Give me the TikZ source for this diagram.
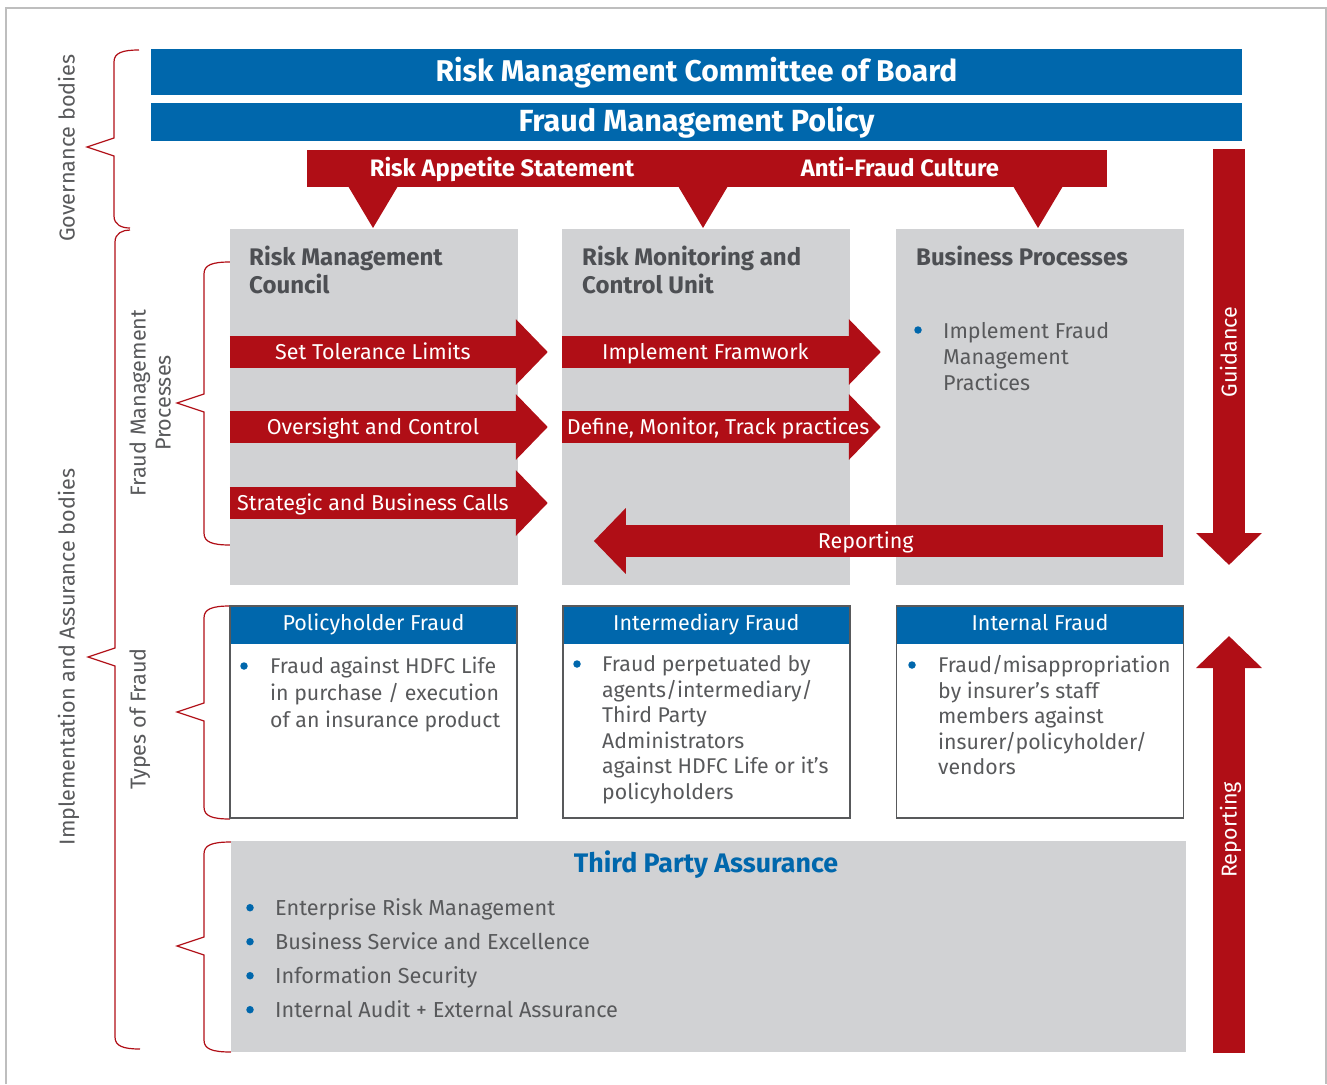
\documentclass[tikz,border=0pt]{standalone}
\usepackage{fontspec}
\setmainfont{Fira Sans}
\usetikzlibrary{arrows.meta,positioning}

\definecolor{hdfcblue}{RGB}{0,103,172}
\definecolor{riskred}{RGB}{176,14,22}
\definecolor{panelgray}{RGB}{209,210,212}
\definecolor{headgray}{RGB}{77,79,83}
\definecolor{textgray}{RGB}{88,89,91}
\definecolor{framegray}{RGB}{190,190,190}

\begin{document}
\begin{tikzpicture}[
  x=1pt,y=-1pt,
  bar/.style={fill=hdfcblue,text=white,minimum width=1091pt,inner sep=0pt,
    font=\fontsize{30}{32}\selectfont\bfseries,text height=20pt,text depth=2pt},
  banner/.style={fill=riskred,minimum width=800pt,minimum height=37pt,inner sep=0pt},
  bannertext/.style={text=white,font=\fontsize{23.8}{26}\selectfont\bfseries,anchor=base,inner sep=0pt},
  panel/.style={fill=panelgray,inner sep=0pt},
  paneltitle/.style={text=headgray,font=\fontsize{24}{25}\selectfont\bfseries,align=left,anchor=north west,inner sep=0pt},
  flow/.style={riskred,line width=32pt,-{Triangle[length=32pt,width=64pt]}},
  flowtext/.style={text=white,font=\fontsize{21.5}{26}\selectfont,text height=16pt,text depth=1pt,inner sep=0pt},
  bulletdot/.style={circle,fill=hdfcblue,inner sep=0pt,minimum size=7.5pt},
  entry/.style={text=textgray,align=left,anchor=north west,inner sep=0pt},
  fraudhead/.style={fill=hdfcblue,text=white,minimum width=287pt,minimum height=38pt,inner sep=0pt,
    font=\fontsize{21.5}{26}\selectfont,text height=15.8pt,text depth=4.4pt},
  fraudbox/.style={draw=textgray,line width=1.4pt,minimum width=287pt,minimum height=212pt,inner sep=0pt},
  sidelabel/.style={text=textgray,font=\fontsize{21.6}{25}\selectfont,rotate=90,align=center,inner sep=0pt},
  brace/.style={draw=riskred,line width=1.2pt}
]
  \useasboundingbox (0,0) rectangle (1327,1084);
  \draw[framegray,line width=1.5pt] (6,1084) -- (6,8) -- (1326,8) -- (1326,1084);

  % braces on the left
  \foreach \xa/\xb/\xs/\xt/\ya/\yt/\yb in {139/130/114/87/50/147/228,
      130/140/115/88/230/657/1049, 230/230/204/177/262/403/545,
      230/230/204/177/606/712/819, 231/231/204/177/842/946/1052}
    \draw[brace] (\xa,\ya) .. controls ({\xs+8},\ya) and (\xs,{\ya+3}) .. (\xs,{\ya+12})
      -- (\xs,{\yt-9}) -- (\xt,\yt) -- (\xs,{\yt+9}) -- (\xs,{\yb-12})
      .. controls (\xs,{\yb-3}) and ({\xs+8},\yb) .. (\xb,\yb);

  \node[sidelabel,anchor=base] (govlbl) at (74.5,148) {Governance bodies};
  \node[sidelabel,anchor=base] (impllbl) at (74.5,657) {Implementation and Assurance bodies};
  \node[sidelabel,anchor=north] (proclbl) at (128,403) {\strut Fraud Management\\Processes};
  \node[sidelabel,anchor=base] (typelbl) at (145.5,719) {Types of Fraud};

  % governance
  \node[bar,minimum height=46pt] (committee) at (696.5,72) {Risk Management Committee of Board};
  \node[bar,minimum height=38pt,font=\fontsize{30.6}{32}\selectfont\bfseries] (policy) at (696.5,122) {Fraud Management Policy};
  \node[banner] (culture) at (707,168.5) {};
  \node[bannertext] (appetite) at (502,176) {Risk Appetite Statement};
  \node[bannertext] (antifraud) at (900,176) {Anti-Fraud Culture};
  \foreach \x in {373,703,1038}
    \fill[riskred] ({\x-25},186) -- (\x,228) -- ({\x+25},186) -- cycle;

  % fraud management processes
  \node[panel,minimum width=288pt,minimum height=356pt] (council) at (374,407) {};
  \node[panel,minimum width=288pt,minimum height=356pt] (monitor) at (706,407) {};
  \node[panel,minimum width=288pt,minimum height=356pt] (business) at (1040,407) {};
  \node[paneltitle] (council-t) at (249,245.8) {\strut Risk Management\\Council};
  \node[paneltitle] (monitor-t) at (582,245.8) {\strut Risk Monitoring and\\Control Unit};
  \node[paneltitle] (business-t) at (916,245.8) {\strut Business Processes};

  \draw[flow] (council.west |- 0,352) -- ++(318,0) node[pos=.45,flowtext] (tolerance) {Set Tolerance Limits};
  \draw[flow] (council.west |- 0,427) -- ++(318,0) node[pos=.45,flowtext] (oversight) {Oversight and Control};
  \draw[flow] (council.west |- 0,503) -- ++(318,0) node[pos=.45,flowtext] (calls) {Strategic and Business Calls};
  \draw[flow] (monitor.west |- 0,352) -- ++(319,0) node[pos=.45,flowtext] (framework) {Implement Framwork};
  \draw[flow] (monitor.west |- 0,427) -- ++(319,0) node[pos=.49,flowtext] (track) {Define, Monitor, Track practices};
  \draw[flow] (business.west |- 0,541) ++(267,0) -- ++(-569,0) node[pos=.522,flowtext] (report) {Reporting};

  \node[bulletdot] (business-d) at (918,330) {};
  \node[entry,font=\fontsize{21.5}{26}\selectfont] (business-e) at (943,320.1) {\strut Implement Fraud\\Management\\Practices};

  % types of fraud
  \node[fraudhead] (holder-h) at (373.5,625) {Policyholder Fraud};
  \node[fraudhead] (agent-h) at (706.3,625) {Intermediary Fraud};
  \node[fraudhead] (staff-h) at (1040,625) {Internal Fraud};
  \node[fraudbox] (holder) at (373.5,712) {};
  \node[fraudbox] (agent) at (706.3,712) {};
  \node[fraudbox] (staff) at (1040,712) {};
  \node[bulletdot] (holder-d) at (244,666) {};
  \node[bulletdot] (agent-d) at (577,664) {};
  \node[bulletdot] (staff-d) at (912,665) {};
  \node[entry,font=\fontsize{21.3}{27}\selectfont] (holder-e) at (270,654.6)
    {\strut Fraud against HDFC Life\\in purchase / execution\\of an insurance product};
  \node[entry,font=\fontsize{21.3}{25.5}\selectfont] (agent-e) at (602,653.9)
    {\strut Fraud perpetuated by\\agents/intermediary/\\Third Party\\Administrators\\against HDFC Life or it’s\\policyholders};
  \node[entry,font=\fontsize{21.3}{25.5}\selectfont] (staff-e) at (938,654.9)
    {\strut Fraud/misappropriation\\by insurer’s staff\\members against\\insurer/policyholder/\\vendors};

  % third party assurance
  \node[panel,minimum width=955pt,minimum height=211pt] (assurance) at (708.5,946.5) {};
  \node[text=hdfcblue,font=\fontsize{26.8}{28}\selectfont\bfseries,anchor=base,inner sep=0pt] (assurance-t) at (706,872) {Third Party Assurance};
  \foreach \y in {907.7,941.7,975.7,1009.7}
    \node[bulletdot] at (250,\y) {};
  \node[entry,font=\fontsize{21.7}{34}\selectfont] (assurance-e) at (275,891.9)
    {\strut Enterprise Risk Management\\Business Service and Excellence\\Information Security\\Internal Audit + External Assurance};

  % guidance and reporting
  \draw[flow] (1229,149) -- (1229,565) node[pos=.488,flowtext,rotate=90] (guidance) {Guidance};
  \draw[flow] (1229,1053) -- (1229,636) node[pos=.535,flowtext,rotate=90] (upreport) {Reporting};
\end{tikzpicture}
\end{document}
